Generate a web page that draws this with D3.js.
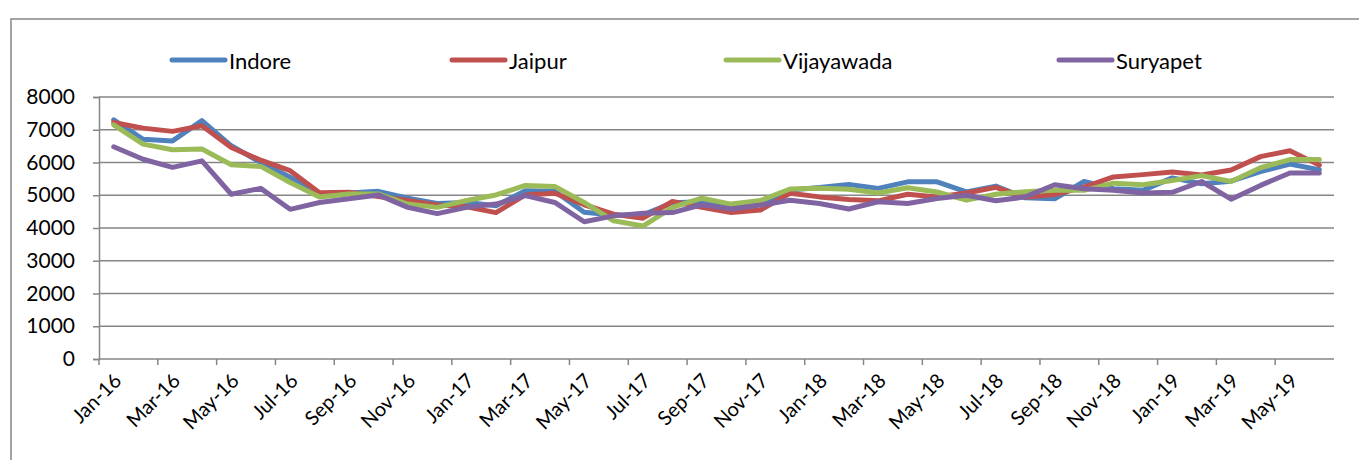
<!DOCTYPE html>
<html>
<head>
<meta charset="utf-8">
<script src="https://cdn.jsdelivr.net/npm/d3@7"></script>
<style>
  body { margin: 0; background: #fff; }
  svg { display: block; font-family: Lato, "Open Sans", sans-serif; }
</style>
</head>
<body>
<svg id="chart" width="1359" height="460"></svg>
<script>
const months = ["Jan-16","Feb-16","Mar-16","Apr-16","May-16","Jun-16","Jul-16","Aug-16","Sep-16","Oct-16","Nov-16","Dec-16",
  "Jan-17","Feb-17","Mar-17","Apr-17","May-17","Jun-17","Jul-17","Aug-17","Sep-17","Oct-17","Nov-17","Dec-17",
  "Jan-18","Feb-18","Mar-18","Apr-18","May-18","Jun-18","Jul-18","Aug-18","Sep-18","Oct-18","Nov-18","Dec-18",
  "Jan-19","Feb-19","Mar-19","Apr-19","May-19","Jun-19"];

const indore = [7300,6710,6660,7280,6510,6000,5550,5030,5070,5120,4910,4750,
  4780,4680,5140,5120,4480,4400,4400,4770,4800,4620,4730,5160,
  5240,5330,5210,5410,5410,5100,5280,4920,4890,5420,5200,5150,
  5530,5350,5430,5720,5950,5780];
const jaipur = [7220,7050,6950,7120,6460,6070,5750,5080,5090,4960,4840,4700,
  4650,4470,5010,5060,4710,4420,4300,4810,4630,4470,4550,5060,
  4950,4870,4830,5030,4950,5070,5240,4940,5020,5250,5560,5630,
  5710,5620,5770,6180,6360,5920];
const vijayawada = [7150,6560,6390,6410,5930,5880,5390,4950,5040,5040,4730,4630,
  4840,5010,5300,5270,4780,4220,4060,4630,4910,4730,4840,5190,
  5210,5180,5070,5230,5100,4850,5030,5110,5150,5150,5370,5320,
  5450,5600,5420,5840,6090,6090];
const suryapet = [6480,6100,5850,6050,5030,5210,4570,4780,4890,5010,4630,4440,
  4630,4730,4990,4780,4190,4370,4450,4470,4710,4580,4700,4850,
  4750,4580,4800,4750,4900,5000,4830,4950,5320,5200,5150,5070,
  5090,5420,4880,5300,5680,5680];

const seriesNames = ["Indore","Jaipur","Vijayawada","Suryapet"];
const seriesValues = [indore, jaipur, vijayawada, suryapet];
const colors = ["#4F81BD","#C0504D","#9BBB59","#8064A2"];
const yTicks = [0,1000,2000,3000,4000,5000,6000,7000,8000];

(function () {
const svg = d3.select("#chart");
const grid = "#868686";
const pLeft = 99, pRight = 1334, pTop = 97, pBottom = 359;

// outer border
svg.append("rect").attr("x", 11).attr("y", 19).attr("width", 1360).attr("height", 460)
  .attr("fill", "none").attr("stroke", grid).attr("stroke-width", 1.5);

const x = d3.scaleBand().domain(months).range([pLeft, pRight]).paddingInner(0).paddingOuter(0);
const cx = m => x(m) + x.bandwidth() / 2;
const y = d3.scaleLinear().domain([0, 8000]).range([pBottom, pTop]);

// gridlines
svg.append("g").selectAll("line").data(yTicks.filter(d => d > 0)).join("line")
  .attr("x1", pLeft).attr("x2", pRight)
  .attr("y1", d => y(d)).attr("y2", d => y(d))
  .attr("stroke", grid).attr("stroke-width", 1.5);

// y axis
const yAxis = svg.append("g").attr("transform", `translate(${pLeft},0)`)
  .call(d3.axisLeft(y).tickValues(yTicks).tickSize(6).tickPadding(18).tickFormat(d3.format("d")));
yAxis.select(".domain").attr("stroke", grid).attr("stroke-width", 1.5);
yAxis.selectAll(".tick line").attr("stroke", grid).attr("stroke-width", 1.5);
yAxis.selectAll(".tick text").attr("font-size", 21).attr("fill", "#000")
  .attr("font-family", "Lato, sans-serif");

// x axis
const labelMonths = months.filter((m, i) => i % 2 === 0);
const xAxisG = svg.append("g").attr("transform", `translate(0,${pBottom})`);
xAxisG.append("line").attr("x1", pLeft).attr("x2", pRight).attr("y1", 0).attr("y2", 0)
  .attr("stroke", grid).attr("stroke-width", 1.5);
xAxisG.selectAll("line.tk").data(labelMonths).join("line").attr("class", "tk")
  .attr("x1", d => x(d)).attr("x2", d => x(d)).attr("y1", 0).attr("y2", 6)
  .attr("stroke", grid).attr("stroke-width", 1.5);
xAxisG.selectAll("text").data(labelMonths).join("text")
  .attr("transform", d => `translate(${cx(d) + 4},18) rotate(-45)`)
  .attr("text-anchor", "end").attr("dy", "0.35em")
  .attr("font-size", 20).attr("fill", "#000")
  .text(d => d);

// lines
const line = d3.line().x((d, i) => cx(months[i])).y(d => y(d)).curve(d3.curveLinear);
seriesValues.forEach((vals, k) => {
  svg.append("path").datum(vals).attr("d", line)
    .attr("fill", "none").attr("stroke", colors[k]).attr("stroke-width", 5)
    .attr("stroke-linejoin", "round").attr("stroke-linecap", "round");
});

// legend
const legendX = [172, 452, 726, 1059];
const lg = svg.append("g");
seriesNames.forEach((n, k) => {
  lg.append("line").attr("x1", legendX[k]).attr("x2", legendX[k] + 53)
    .attr("y1", 60).attr("y2", 60).attr("stroke", colors[k]).attr("stroke-width", 5)
    .attr("stroke-linecap", "round");
  lg.append("text").attr("x", legendX[k] + 57).attr("y", 61).attr("dy", "0.35em")
    .attr("font-size", 22).attr("fill", "#000").text(n);
});
})();
</script>
</body>
</html>
